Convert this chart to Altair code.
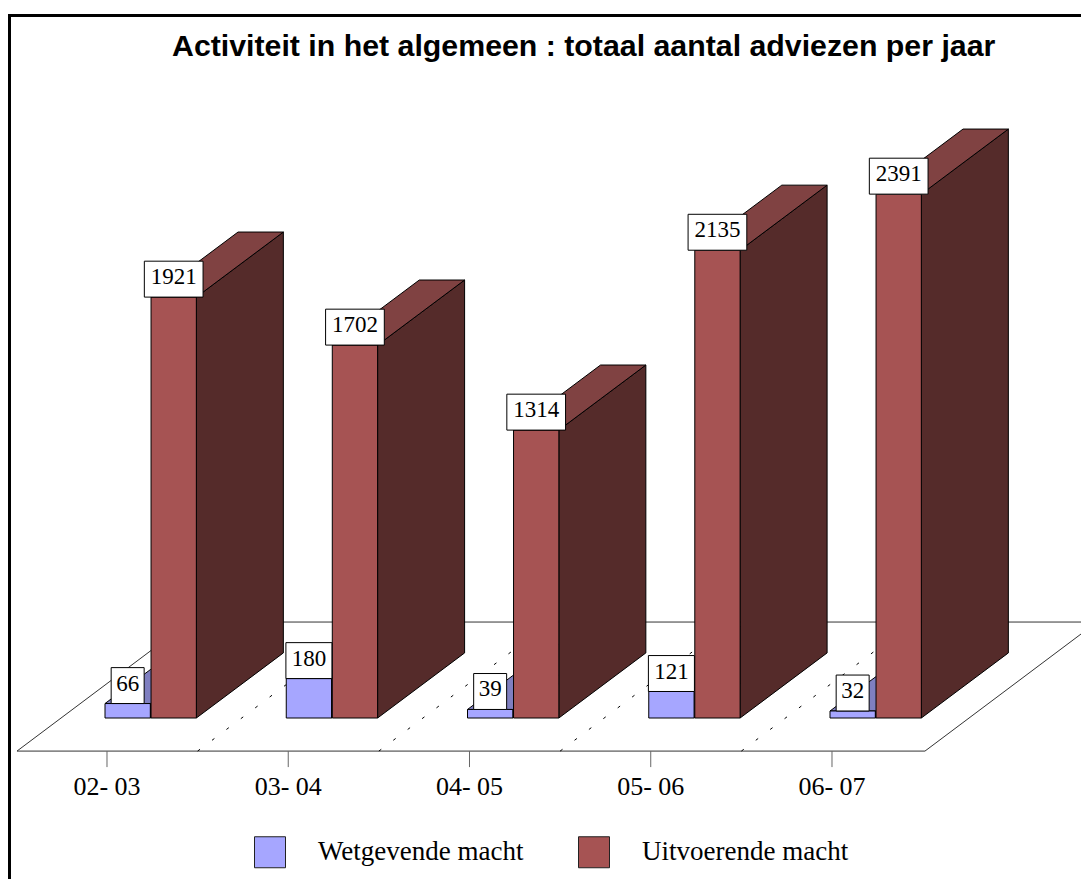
import altair as alt
import pandas as pd

categories = ["02- 03", "03- 04", "04- 05", "05- 06", "06- 07"]
wetgevende = [66, 180, 39, 121, 32]
uitvoerende = [1921, 1702, 1314, 2135, 2391]
series_names = ["Wetgevende macht", "Uitvoerende macht"]
series_colors = ["#A6A6FF", "#A65353"]

# geometry in data units (x: one category = 1, y: advice count)
BLUE_X0, RED_X0, BAR_W = -0.011, 0.243, 0.25
DX, DY = 0.48, 297
FLOOR_X0, FLOOR_X1, FLOOR_Y0, FLOOR_Y1 = -0.4966, 4.513, -151, 438
FLOOR_DX = 0.949
TICK_END, TICK_LABEL_Y = -224, -315
LABEL_H = 164
X_DOMAIN = [-0.5462, 5.3738]
Y_DOMAIN = [-734.8, 3240.5]
W, H = 1073, 871


def polygon(face_id, fill, pts):
    """Turn a convex polygon into area rows (x, lower, upper)."""
    n = len(pts)
    rows = []
    for x in sorted({p[0] for p in pts}):
        ys = []
        for i in range(n):
            (x0, y0), (x1, y1) = pts[i], pts[(i + 1) % n]
            if min(x0, x1) <= x <= max(x0, x1):
                if x0 == x1:
                    ys += [y0, y1]
                else:
                    ys.append(y0 + (y1 - y0) * (x - x0) / (x1 - x0))
        rows.append(dict(face=face_id, fill=fill, x=x, lo=min(ys), hi=max(ys)))
    return rows


def box_faces(prefix, x0, values, side, top):
    rows = []
    for i, v in enumerate(values):
        a = i + x0
        b = a + BAR_W
        rows += polygon(f"{prefix}{i}s", side, [(b, 0), (b + DX, DY), (b + DX, v + DY), (b, v)])
        rows += polygon(f"{prefix}{i}t", top, [(a, v), (b, v), (b + DX, v + DY), (a + DX, v + DY)])
    return pd.DataFrame(rows)


def fronts(name, x0, values):
    return pd.DataFrame(
        [dict(series=name, x=i + x0, x2=i + x0 + BAR_W, y=0, y2=v) for i, v in enumerate(values)]
    )


def label_table(x0, values):
    rows = []
    for i, v in enumerate(values):
        half = (0.091 if v < 100 else 0.127 if v < 1000 else 0.162)
        c = i + x0 + BAR_W / 2
        rows.append(dict(x=c - half, x2=c + half, xc=c, y=v, y2=v + LABEL_H, ym=v + LABEL_H / 2, label=str(v)))
    return rows


xs = alt.Scale(domain=X_DOMAIN, nice=False, zero=False)
ys = alt.Scale(domain=Y_DOMAIN, nice=False, zero=False)
X = lambda f="x": alt.X(f"{f}:Q", scale=xs, axis=None)
Y = lambda f="y": alt.Y(f"{f}:Q", scale=ys, axis=None)

# floor
floor_df = pd.DataFrame(
    polygon(
        "floor",
        "white",
        [
            (FLOOR_X0, FLOOR_Y0),
            (FLOOR_X1, FLOOR_Y0),
            (FLOOR_X1 + FLOOR_DX, FLOOR_Y1),
            (FLOOR_X0 + FLOOR_DX, FLOOR_Y1),
        ],
    )
)
floor = (
    alt.Chart(floor_df)
    .mark_area(orient="vertical", fill="white", stroke="#333333", strokeWidth=1, clip=True)
    .encode(x=X(), y=Y("hi"), y2="lo:Q")
)

# category ticks and labels
ticks_df = pd.DataFrame(
    [dict(x=i, y=FLOOR_Y0, y2=TICK_END, ly=TICK_LABEL_Y, label=c) for i, c in enumerate(categories)]
)
ticks = (
    alt.Chart(ticks_df)
    .mark_rule(color="#666666", strokeWidth=1)
    .encode(x=X(), y=Y(), y2="y2:Q")
)
tick_labels = (
    alt.Chart(ticks_df)
    .mark_text(font="Liberation Serif", fontSize=26, color="black", baseline="middle")
    .encode(x=X(), y=Y("ly"), text="label:N")
)

# dotted separators on the floor
dash_rows = []
for i in range(len(categories) - 1):
    dash_rows.append(dict(sep=i, x=i + 0.5, y=FLOOR_Y0))
    dash_rows.append(dict(sep=i, x=i + 0.5 + FLOOR_DX, y=FLOOR_Y1))
dashes = (
    alt.Chart(pd.DataFrame(dash_rows))
    .mark_line(color="black", strokeWidth=1, strokeDash=[3, 15])
    .encode(x=X(), y=Y(), detail="sep:N")
)


def area_layer(df):
    return (
        alt.Chart(df)
        .mark_area(orient="vertical", stroke="black", strokeWidth=1)
        .encode(
            x=X(),
            y=Y("hi"),
            y2="lo:Q",
            fill=alt.Fill("fill:N", scale=None),
            detail="face:N",
        )
    )


color = alt.Color(
    "series:N",
    scale=alt.Scale(domain=series_names, range=series_colors),
    legend=alt.Legend(
        title=None,
        orient="none",
        legendX=246,
        legendY=828,
        direction="horizontal",
        symbolType="square",
        symbolSize=961,
        symbolStrokeColor="#222222",
        symbolStrokeWidth=1,
        labelFont="Liberation Serif",
        labelFontSize=27,
        labelColor="black",
        labelOffset=32,
        labelLimit=400,
        columnPadding=52,
    ),
)


def front_layer(df):
    return (
        alt.Chart(df)
        .mark_rect(stroke="black", strokeWidth=1)
        .encode(x=X(), x2="x2:Q", y=Y(), y2="y2:Q", color=color)
    )


blue_faces = area_layer(box_faces("b", BLUE_X0, wetgevende, "#7F7FC0", "#7F7FC0"))
blue_front = front_layer(fronts(series_names[0], BLUE_X0, wetgevende))
red_faces = area_layer(box_faces("r", RED_X0, uitvoerende, "#552B2A", "#804242"))
red_front = front_layer(fronts(series_names[1], RED_X0, uitvoerende))

labels = pd.DataFrame(label_table(BLUE_X0, wetgevende) + label_table(RED_X0, uitvoerende))
label_box = (
    alt.Chart(labels)
    .mark_rect(fill="white", stroke="black", strokeWidth=1)
    .encode(x=X(), x2="x2:Q", y=Y(), y2="y2:Q")
)
label_text = (
    alt.Chart(labels)
    .mark_text(font="Liberation Serif", fontSize=23, color="black", baseline="middle", dy=-2)
    .encode(x=X("xc"), y=Y("ym"), text="label:N")
)

# frame of the picture
border_top = alt.Chart(pd.DataFrame({"a": [0]})).mark_rule(color="black", strokeWidth=3).encode(
    x=alt.value(0), x2=alt.value(W), y=alt.value(7.5)
)
border_left = alt.Chart(pd.DataFrame({"a": [0]})).mark_rule(color="black", strokeWidth=3).encode(
    x=alt.value(1.5), y=alt.value(6), y2=alt.value(H)
)

chart = (
    alt.layer(
        floor, ticks, tick_labels, dashes, blue_faces, blue_front, red_faces, red_front,
        label_box, label_text, border_top, border_left,
    )
    .resolve_scale(fill="independent")
    .properties(
        width=W,
        height=H,
        padding=0,
        autosize=alt.AutoSizeParams(type="none"),
        background="white",
        title=alt.TitleParams(
            "Activiteit in het algemeen : totaal aantal adviezen per jaar",
            anchor="start",
            frame="group",
            font="Liberation Sans",
            fontSize=30.3,
            fontWeight="bold",
            color="black",
            dx=164,
            dy=78,
            baseline="alphabetic",
            offset=0,
        ),
    )
    .configure_view(stroke=None)
)

chart.save("out.html", embed_options={"renderer": "svg", "actions": False})
